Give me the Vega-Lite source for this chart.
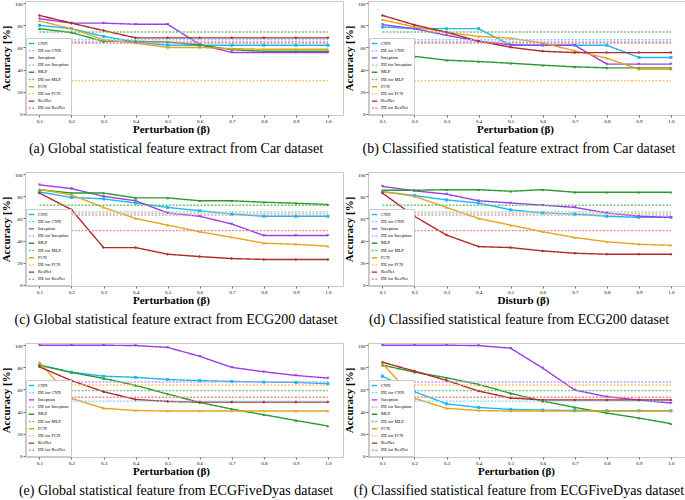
{
"$schema":"https://vega.github.io/schema/vega-lite/v6.json",
"padding":{"left":0,"top":0,"right":0,"bottom":0},
"background":"white",
"data":{"values":[
{"p":"a","s":"CNN","x":0.1,"y":80},{"p":"a","s":"CNN","x":0.2,"y":77},{"p":"a","s":"CNN","x":0.3,"y":70},{"p":"a","s":"CNN","x":0.4,"y":65},{"p":"a","s":"CNN","x":0.5,"y":62},{"p":"a","s":"CNN","x":0.6,"y":62},{"p":"a","s":"CNN","x":0.7,"y":62},{"p":"a","s":"CNN","x":0.8,"y":62},{"p":"a","s":"CNN","x":0.9,"y":62},{"p":"a","s":"CNN","x":1.0,"y":62},
{"p":"a","s":"Inception","x":0.1,"y":86},{"p":"a","s":"Inception","x":0.2,"y":82},{"p":"a","s":"Inception","x":0.3,"y":82},{"p":"a","s":"Inception","x":0.4,"y":81},{"p":"a","s":"Inception","x":0.5,"y":81},{"p":"a","s":"Inception","x":0.6,"y":62.7},{"p":"a","s":"Inception","x":0.7,"y":55.5},{"p":"a","s":"Inception","x":0.8,"y":55.5},{"p":"a","s":"Inception","x":0.9,"y":55.5},{"p":"a","s":"Inception","x":1.0,"y":55.5},
{"p":"a","s":"MLP","x":0.1,"y":77},{"p":"a","s":"MLP","x":0.2,"y":73.5},{"p":"a","s":"MLP","x":0.3,"y":65.5},{"p":"a","s":"MLP","x":0.4,"y":65.5},{"p":"a","s":"MLP","x":0.5,"y":65},{"p":"a","s":"MLP","x":0.6,"y":62.3},{"p":"a","s":"MLP","x":0.7,"y":58},{"p":"a","s":"MLP","x":0.8,"y":56.6},{"p":"a","s":"MLP","x":0.9,"y":56.6},{"p":"a","s":"MLP","x":1.0,"y":56.6},
{"p":"a","s":"FCN","x":0.1,"y":84},{"p":"a","s":"FCN","x":0.2,"y":77},{"p":"a","s":"FCN","x":0.3,"y":67},{"p":"a","s":"FCN","x":0.4,"y":64},{"p":"a","s":"FCN","x":0.5,"y":60},{"p":"a","s":"FCN","x":0.6,"y":60},{"p":"a","s":"FCN","x":0.7,"y":59},{"p":"a","s":"FCN","x":0.8,"y":58.4},{"p":"a","s":"FCN","x":0.9,"y":58.4},{"p":"a","s":"FCN","x":1.0,"y":58.4},
{"p":"a","s":"ResNet","x":0.1,"y":89},{"p":"a","s":"ResNet","x":0.2,"y":82},{"p":"a","s":"ResNet","x":0.3,"y":75.3},{"p":"a","s":"ResNet","x":0.4,"y":68.7},{"p":"a","s":"ResNet","x":0.5,"y":68.7},{"p":"a","s":"ResNet","x":0.6,"y":68.7},{"p":"a","s":"ResNet","x":0.7,"y":68.7},{"p":"a","s":"ResNet","x":0.8,"y":68.7},{"p":"a","s":"ResNet","x":0.9,"y":68.7},{"p":"a","s":"ResNet","x":1.0,"y":68.7},
{"p":"a","s":"DE for CNN","x":0.1,"y":67},{"p":"a","s":"DE for CNN","x":1.0,"y":67},
{"p":"a","s":"DE for Inception","x":0.1,"y":65},{"p":"a","s":"DE for Inception","x":1.0,"y":65},
{"p":"a","s":"DE for MLP","x":0.1,"y":74},{"p":"a","s":"DE for MLP","x":1.0,"y":74},
{"p":"a","s":"DE for FCN","x":0.1,"y":30},{"p":"a","s":"DE for FCN","x":1.0,"y":30},
{"p":"a","s":"DE for ResNet","x":0.1,"y":64},{"p":"a","s":"DE for ResNet","x":1.0,"y":64},

{"p":"b","s":"CNN","x":0.1,"y":78.6},{"p":"b","s":"CNN","x":0.2,"y":77},{"p":"b","s":"CNN","x":0.3,"y":77},{"p":"b","s":"CNN","x":0.4,"y":77},{"p":"b","s":"CNN","x":0.5,"y":62},{"p":"b","s":"CNN","x":0.6,"y":62},{"p":"b","s":"CNN","x":0.7,"y":62},{"p":"b","s":"CNN","x":0.8,"y":62},{"p":"b","s":"CNN","x":0.9,"y":51},{"p":"b","s":"CNN","x":1.0,"y":51},
{"p":"b","s":"Inception","x":0.1,"y":80.7},{"p":"b","s":"Inception","x":0.2,"y":77},{"p":"b","s":"Inception","x":0.3,"y":71},{"p":"b","s":"Inception","x":0.4,"y":65.7},{"p":"b","s":"Inception","x":0.5,"y":62.3},{"p":"b","s":"Inception","x":0.6,"y":62},{"p":"b","s":"Inception","x":0.7,"y":62},{"p":"b","s":"Inception","x":0.8,"y":45},{"p":"b","s":"Inception","x":0.9,"y":45},{"p":"b","s":"Inception","x":1.0,"y":45},
{"p":"b","s":"MLP","x":0.1,"y":61},{"p":"b","s":"MLP","x":0.2,"y":52},{"p":"b","s":"MLP","x":0.3,"y":48.5},{"p":"b","s":"MLP","x":0.4,"y":47.3},{"p":"b","s":"MLP","x":0.5,"y":45.8},{"p":"b","s":"MLP","x":0.6,"y":44},{"p":"b","s":"MLP","x":0.7,"y":42.5},{"p":"b","s":"MLP","x":0.8,"y":41.6},{"p":"b","s":"MLP","x":0.9,"y":41.6},{"p":"b","s":"MLP","x":1.0,"y":41.6},
{"p":"b","s":"FCN","x":0.1,"y":85},{"p":"b","s":"FCN","x":0.2,"y":78.6},{"p":"b","s":"FCN","x":0.3,"y":73.8},{"p":"b","s":"FCN","x":0.4,"y":70},{"p":"b","s":"FCN","x":0.5,"y":68.4},{"p":"b","s":"FCN","x":0.6,"y":64},{"p":"b","s":"FCN","x":0.7,"y":57},{"p":"b","s":"FCN","x":0.8,"y":50.3},{"p":"b","s":"FCN","x":0.9,"y":40.4},{"p":"b","s":"FCN","x":1.0,"y":40.4},
{"p":"b","s":"ResNet","x":0.1,"y":89},{"p":"b","s":"ResNet","x":0.2,"y":80.4},{"p":"b","s":"ResNet","x":0.3,"y":73.8},{"p":"b","s":"ResNet","x":0.4,"y":65.7},{"p":"b","s":"ResNet","x":0.5,"y":60.2},{"p":"b","s":"ResNet","x":0.6,"y":56.6},{"p":"b","s":"ResNet","x":0.7,"y":55.4},{"p":"b","s":"ResNet","x":0.8,"y":55.4},{"p":"b","s":"ResNet","x":0.9,"y":55.4},{"p":"b","s":"ResNet","x":1.0,"y":55.4},
{"p":"b","s":"DE for CNN","x":0.1,"y":67},{"p":"b","s":"DE for CNN","x":1.0,"y":67},
{"p":"b","s":"DE for Inception","x":0.1,"y":65},{"p":"b","s":"DE for Inception","x":1.0,"y":65},
{"p":"b","s":"DE for MLP","x":0.1,"y":74},{"p":"b","s":"DE for MLP","x":1.0,"y":74},
{"p":"b","s":"DE for FCN","x":0.1,"y":30},{"p":"b","s":"DE for FCN","x":1.0,"y":30},
{"p":"b","s":"DE for ResNet","x":0.1,"y":64},{"p":"b","s":"DE for ResNet","x":1.0,"y":64},

{"p":"c","s":"CNN","x":0.1,"y":84},{"p":"c","s":"CNN","x":0.2,"y":79},{"p":"c","s":"CNN","x":0.3,"y":77.7},{"p":"c","s":"CNN","x":0.4,"y":74},{"p":"c","s":"CNN","x":0.5,"y":70},{"p":"c","s":"CNN","x":0.6,"y":67},{"p":"c","s":"CNN","x":0.7,"y":64},{"p":"c","s":"CNN","x":0.8,"y":62},{"p":"c","s":"CNN","x":0.9,"y":62},{"p":"c","s":"CNN","x":1.0,"y":62},
{"p":"c","s":"Inception","x":0.1,"y":90.4},{"p":"c","s":"Inception","x":0.2,"y":87},{"p":"c","s":"Inception","x":0.3,"y":80},{"p":"c","s":"Inception","x":0.4,"y":76},{"p":"c","s":"Inception","x":0.5,"y":65},{"p":"c","s":"Inception","x":0.6,"y":62},{"p":"c","s":"Inception","x":0.7,"y":55},{"p":"c","s":"Inception","x":0.8,"y":44.6},{"p":"c","s":"Inception","x":0.9,"y":44.6},{"p":"c","s":"Inception","x":1.0,"y":44.6},
{"p":"c","s":"MLP","x":0.1,"y":86},{"p":"c","s":"MLP","x":0.2,"y":83},{"p":"c","s":"MLP","x":0.3,"y":83},{"p":"c","s":"MLP","x":0.4,"y":78.6},{"p":"c","s":"MLP","x":0.5,"y":78.6},{"p":"c","s":"MLP","x":0.6,"y":76},{"p":"c","s":"MLP","x":0.7,"y":76},{"p":"c","s":"MLP","x":0.8,"y":74.7},{"p":"c","s":"MLP","x":0.9,"y":73.8},{"p":"c","s":"MLP","x":1.0,"y":72.6},
{"p":"c","s":"FCN","x":0.1,"y":86.4},{"p":"c","s":"FCN","x":0.2,"y":81.3},{"p":"c","s":"FCN","x":0.3,"y":70},{"p":"c","s":"FCN","x":0.4,"y":60},{"p":"c","s":"FCN","x":0.5,"y":54},{"p":"c","s":"FCN","x":0.6,"y":48},{"p":"c","s":"FCN","x":0.7,"y":43},{"p":"c","s":"FCN","x":0.8,"y":37.7},{"p":"c","s":"FCN","x":0.9,"y":36.7},{"p":"c","s":"FCN","x":1.0,"y":35},
{"p":"c","s":"ResNet","x":0.1,"y":83},{"p":"c","s":"ResNet","x":0.2,"y":68},{"p":"c","s":"ResNet","x":0.3,"y":33.7},{"p":"c","s":"ResNet","x":0.4,"y":33.7},{"p":"c","s":"ResNet","x":0.5,"y":27.7},{"p":"c","s":"ResNet","x":0.6,"y":25.6},{"p":"c","s":"ResNet","x":0.7,"y":23.8},{"p":"c","s":"ResNet","x":0.8,"y":23},{"p":"c","s":"ResNet","x":0.9,"y":23},{"p":"c","s":"ResNet","x":1.0,"y":23},
{"p":"c","s":"DE for CNN","x":0.1,"y":66},{"p":"c","s":"DE for CNN","x":1.0,"y":66},
{"p":"c","s":"DE for Inception","x":0.1,"y":63},{"p":"c","s":"DE for Inception","x":1.0,"y":63},
{"p":"c","s":"DE for MLP","x":0.1,"y":72},{"p":"c","s":"DE for MLP","x":1.0,"y":72},
{"p":"c","s":"DE for FCN","x":0.1,"y":64.5},{"p":"c","s":"DE for FCN","x":1.0,"y":64.5},
{"p":"c","s":"DE for ResNet","x":0.1,"y":49},{"p":"c","s":"DE for ResNet","x":1.0,"y":49},

{"p":"d","s":"CNN","x":0.1,"y":84.3},{"p":"d","s":"CNN","x":0.2,"y":80.7},{"p":"d","s":"CNN","x":0.3,"y":76.8},{"p":"d","s":"CNN","x":0.4,"y":74},{"p":"d","s":"CNN","x":0.5,"y":67.8},{"p":"d","s":"CNN","x":0.6,"y":65},{"p":"d","s":"CNN","x":0.7,"y":64},{"p":"d","s":"CNN","x":0.8,"y":62},{"p":"d","s":"CNN","x":0.9,"y":61},{"p":"d","s":"CNN","x":1.0,"y":61},
{"p":"d","s":"Inception","x":0.1,"y":89},{"p":"d","s":"Inception","x":0.2,"y":85},{"p":"d","s":"Inception","x":0.3,"y":82},{"p":"d","s":"Inception","x":0.4,"y":76},{"p":"d","s":"Inception","x":0.5,"y":74},{"p":"d","s":"Inception","x":0.6,"y":72},{"p":"d","s":"Inception","x":0.7,"y":70},{"p":"d","s":"Inception","x":0.8,"y":65},{"p":"d","s":"Inception","x":0.9,"y":62},{"p":"d","s":"Inception","x":1.0,"y":61},
{"p":"d","s":"MLP","x":0.1,"y":85.5},{"p":"d","s":"MLP","x":0.2,"y":85.5},{"p":"d","s":"MLP","x":0.3,"y":86},{"p":"d","s":"MLP","x":0.4,"y":86},{"p":"d","s":"MLP","x":0.5,"y":84.6},{"p":"d","s":"MLP","x":0.6,"y":86},{"p":"d","s":"MLP","x":0.7,"y":83.7},{"p":"d","s":"MLP","x":0.8,"y":83.7},{"p":"d","s":"MLP","x":0.9,"y":83.7},{"p":"d","s":"MLP","x":1.0,"y":83.7},
{"p":"d","s":"FCN","x":0.1,"y":84.3},{"p":"d","s":"FCN","x":0.2,"y":80},{"p":"d","s":"FCN","x":0.3,"y":70},{"p":"d","s":"FCN","x":0.4,"y":60},{"p":"d","s":"FCN","x":0.5,"y":54},{"p":"d","s":"FCN","x":0.6,"y":48},{"p":"d","s":"FCN","x":0.7,"y":42.8},{"p":"d","s":"FCN","x":0.8,"y":39},{"p":"d","s":"FCN","x":0.9,"y":36.7},{"p":"d","s":"FCN","x":1.0,"y":35.8},
{"p":"d","s":"ResNet","x":0.1,"y":83},{"p":"d","s":"ResNet","x":0.2,"y":62},{"p":"d","s":"ResNet","x":0.3,"y":45},{"p":"d","s":"ResNet","x":0.4,"y":34.6},{"p":"d","s":"ResNet","x":0.5,"y":33.7},{"p":"d","s":"ResNet","x":0.6,"y":30.7},{"p":"d","s":"ResNet","x":0.7,"y":28.6},{"p":"d","s":"ResNet","x":0.8,"y":27.7},{"p":"d","s":"ResNet","x":0.9,"y":27.7},{"p":"d","s":"ResNet","x":1.0,"y":27.7},
{"p":"d","s":"DE for CNN","x":0.1,"y":66},{"p":"d","s":"DE for CNN","x":1.0,"y":66},
{"p":"d","s":"DE for Inception","x":0.1,"y":63},{"p":"d","s":"DE for Inception","x":1.0,"y":63},
{"p":"d","s":"DE for MLP","x":0.1,"y":72},{"p":"d","s":"DE for MLP","x":1.0,"y":72},
{"p":"d","s":"DE for FCN","x":0.1,"y":64.5},{"p":"d","s":"DE for FCN","x":1.0,"y":64.5},
{"p":"d","s":"DE for ResNet","x":0.1,"y":49},{"p":"d","s":"DE for ResNet","x":1.0,"y":49},

{"p":"e","s":"CNN","x":0.1,"y":82},{"p":"e","s":"CNN","x":0.2,"y":75.7},{"p":"e","s":"CNN","x":0.3,"y":72},{"p":"e","s":"CNN","x":0.4,"y":71},{"p":"e","s":"CNN","x":0.5,"y":69},{"p":"e","s":"CNN","x":0.6,"y":68},{"p":"e","s":"CNN","x":0.7,"y":67.3},{"p":"e","s":"CNN","x":0.8,"y":66.7},{"p":"e","s":"CNN","x":0.9,"y":66.4},{"p":"e","s":"CNN","x":1.0,"y":65.2},
{"p":"e","s":"Inception","x":0.1,"y":100},{"p":"e","s":"Inception","x":0.2,"y":100},{"p":"e","s":"Inception","x":0.3,"y":100},{"p":"e","s":"Inception","x":0.4,"y":99.7},{"p":"e","s":"Inception","x":0.5,"y":98},{"p":"e","s":"Inception","x":0.6,"y":90},{"p":"e","s":"Inception","x":0.7,"y":80},{"p":"e","s":"Inception","x":0.8,"y":76},{"p":"e","s":"Inception","x":0.9,"y":72.7},{"p":"e","s":"Inception","x":1.0,"y":70.3},
{"p":"e","s":"MLP","x":0.1,"y":82},{"p":"e","s":"MLP","x":0.2,"y":75.4},{"p":"e","s":"MLP","x":0.3,"y":70},{"p":"e","s":"MLP","x":0.4,"y":63.7},{"p":"e","s":"MLP","x":0.5,"y":55.9},{"p":"e","s":"MLP","x":0.6,"y":48.3},{"p":"e","s":"MLP","x":0.7,"y":42.3},{"p":"e","s":"MLP","x":0.8,"y":37.2},{"p":"e","s":"MLP","x":0.9,"y":32},{"p":"e","s":"MLP","x":1.0,"y":27},
{"p":"e","s":"FCN","x":0.1,"y":84.7},{"p":"e","s":"FCN","x":0.2,"y":52},{"p":"e","s":"FCN","x":0.3,"y":43},{"p":"e","s":"FCN","x":0.4,"y":41},{"p":"e","s":"FCN","x":0.5,"y":40.5},{"p":"e","s":"FCN","x":0.6,"y":40.5},{"p":"e","s":"FCN","x":0.7,"y":40.5},{"p":"e","s":"FCN","x":0.8,"y":40.5},{"p":"e","s":"FCN","x":0.9,"y":40.5},{"p":"e","s":"FCN","x":1.0,"y":40.5},
{"p":"e","s":"ResNet","x":0.1,"y":80.5},{"p":"e","s":"ResNet","x":0.2,"y":68},{"p":"e","s":"ResNet","x":0.3,"y":58},{"p":"e","s":"ResNet","x":0.4,"y":51},{"p":"e","s":"ResNet","x":0.5,"y":49.2},{"p":"e","s":"ResNet","x":0.6,"y":48.6},{"p":"e","s":"ResNet","x":0.7,"y":48.6},{"p":"e","s":"ResNet","x":0.8,"y":48.6},{"p":"e","s":"ResNet","x":0.9,"y":48.6},{"p":"e","s":"ResNet","x":1.0,"y":48.6},
{"p":"e","s":"DE for CNN","x":0.1,"y":49.5},{"p":"e","s":"DE for CNN","x":1.0,"y":49.5},
{"p":"e","s":"DE for Inception","x":0.1,"y":66.7},{"p":"e","s":"DE for Inception","x":1.0,"y":66.7},
{"p":"e","s":"DE for MLP","x":0.1,"y":59},{"p":"e","s":"DE for MLP","x":1.0,"y":59},
{"p":"e","s":"DE for FCN","x":0.1,"y":64},{"p":"e","s":"DE for FCN","x":1.0,"y":64},
{"p":"e","s":"DE for ResNet","x":0.1,"y":53},{"p":"e","s":"DE for ResNet","x":1.0,"y":53},

{"p":"f","s":"CNN","x":0.1,"y":72},{"p":"f","s":"CNN","x":0.2,"y":58},{"p":"f","s":"CNN","x":0.3,"y":47},{"p":"f","s":"CNN","x":0.4,"y":43.8},{"p":"f","s":"CNN","x":0.5,"y":42},{"p":"f","s":"CNN","x":0.6,"y":41.4},{"p":"f","s":"CNN","x":0.7,"y":41},{"p":"f","s":"CNN","x":0.8,"y":40.8},{"p":"f","s":"CNN","x":0.9,"y":40.8},{"p":"f","s":"CNN","x":1.0,"y":40.8},
{"p":"f","s":"Inception","x":0.1,"y":100},{"p":"f","s":"Inception","x":0.2,"y":100},{"p":"f","s":"Inception","x":0.3,"y":100},{"p":"f","s":"Inception","x":0.4,"y":99.7},{"p":"f","s":"Inception","x":0.5,"y":97.3},{"p":"f","s":"Inception","x":0.6,"y":79.3},{"p":"f","s":"Inception","x":0.7,"y":59.5},{"p":"f","s":"Inception","x":0.8,"y":53.5},{"p":"f","s":"Inception","x":0.9,"y":50.5},{"p":"f","s":"Inception","x":1.0,"y":47.7},
{"p":"f","s":"MLP","x":0.1,"y":82},{"p":"f","s":"MLP","x":0.2,"y":75.7},{"p":"f","s":"MLP","x":0.3,"y":70.6},{"p":"f","s":"MLP","x":0.4,"y":64.6},{"p":"f","s":"MLP","x":0.5,"y":56.5},{"p":"f","s":"MLP","x":0.6,"y":49.5},{"p":"f","s":"MLP","x":0.7,"y":43.8},{"p":"f","s":"MLP","x":0.8,"y":38.7},{"p":"f","s":"MLP","x":0.9,"y":34.2},{"p":"f","s":"MLP","x":1.0,"y":29.1},
{"p":"f","s":"FCN","x":0.1,"y":83.5},{"p":"f","s":"FCN","x":0.2,"y":52},{"p":"f","s":"FCN","x":0.3,"y":43},{"p":"f","s":"FCN","x":0.4,"y":41},{"p":"f","s":"FCN","x":0.5,"y":40.5},{"p":"f","s":"FCN","x":0.6,"y":40.5},{"p":"f","s":"FCN","x":0.7,"y":40.5},{"p":"f","s":"FCN","x":0.8,"y":40.5},{"p":"f","s":"FCN","x":0.9,"y":40.5},{"p":"f","s":"FCN","x":1.0,"y":40.5},
{"p":"f","s":"ResNet","x":0.1,"y":84.7},{"p":"f","s":"ResNet","x":0.2,"y":76.6},{"p":"f","s":"ResNet","x":0.3,"y":68.2},{"p":"f","s":"ResNet","x":0.4,"y":58.6},{"p":"f","s":"ResNet","x":0.5,"y":52.3},{"p":"f","s":"ResNet","x":0.6,"y":50.5},{"p":"f","s":"ResNet","x":0.7,"y":50.5},{"p":"f","s":"ResNet","x":0.8,"y":50.5},{"p":"f","s":"ResNet","x":0.9,"y":50.5},{"p":"f","s":"ResNet","x":1.0,"y":50.5},
{"p":"f","s":"DE for CNN","x":0.1,"y":49.5},{"p":"f","s":"DE for CNN","x":1.0,"y":49.5},
{"p":"f","s":"DE for Inception","x":0.1,"y":66.7},{"p":"f","s":"DE for Inception","x":1.0,"y":66.7},
{"p":"f","s":"DE for MLP","x":0.1,"y":59},{"p":"f","s":"DE for MLP","x":1.0,"y":59},
{"p":"f","s":"DE for FCN","x":0.1,"y":64},{"p":"f","s":"DE for FCN","x":1.0,"y":64},
{"p":"f","s":"DE for ResNet","x":0.1,"y":53},{"p":"f","s":"DE for ResNet","x":1.0,"y":53}
]},
"columns":2,
"bounds":"flush",
"spacing":{"row":57,"column":25},
"resolve":{"scale":{"color":"independent","strokeDash":"independent","shape":"independent"}},
"concat":[
{"width":318,"height":114,"transform":[{"filter":"datum.p=='a'"}],
 "title":{"text":"(a) Global statistical feature extract from Car dataset"},
 "encoding":{
  "x":{"field":"x","type":"quantitative","scale":{"domain":[0.055,1.047],"nice":false,"zero":false},"axis":{"values":[0.1,0.2,0.3,0.4,0.5,0.6,0.7,0.8,0.9,1.0],"format":".1f","title":"Perturbation (β)","titleX":146}},
  "y":{"field":"y","type":"quantitative","scale":{"domain":[-1,102],"nice":false},"axis":{"values":[0,20,40,60,80,100],"title":"Accuracy [%]"}},
  "color":{"field":"s","type":"nominal","scale":{"domain":["CNN","DE for CNN","Inception","DE for Inception","MLP","DE for MLP","FCN","DE for FCN","ResNet","DE for ResNet"],"range":["#1cb8f0","#7fd6f5","#9b3de8","#c99cf0","#2b9a2b","#74c074","#e6a41c","#f2c870","#b3282d","#e58a8a"]},"legend":{"title":null}}},
 "layer":[
  {"mark":{"type":"line","strokeWidth":1.4},"encoding":{"strokeDash":{"field":"s","type":"nominal","scale":{"domain":["CNN","DE for CNN","Inception","DE for Inception","MLP","DE for MLP","FCN","DE for FCN","ResNet","DE for ResNet"],"range":[[1,0],[2,1.5],[1,0],[2,1.5],[1,0],[2,1.5],[1,0],[2,1.5],[1,0],[2,1.5]]},"legend":{"title":null}}}},
  {"transform":[{"filter":"indexof(datum.s,'DE')<0"}],"mark":{"type":"point","filled":true,"size":9,"opacity":1},"encoding":{"shape":{"field":"s","type":"nominal","scale":{"domain":["CNN","Inception","MLP","FCN","ResNet"],"range":["square","triangle-down","triangle-up","triangle-up","diamond"]},"legend":null}}}
 ]},
{"width":318,"height":114,"transform":[{"filter":"datum.p=='b'"}],
 "title":{"text":"(b) Classified statistical feature extract from Car dataset"},
 "encoding":{
  "x":{"field":"x","type":"quantitative","scale":{"domain":[0.055,1.047],"nice":false,"zero":false},"axis":{"values":[0.1,0.2,0.3,0.4,0.5,0.6,0.7,0.8,0.9,1.0],"format":".1f","title":"Perturbation (β)","titleX":147}},
  "y":{"field":"y","type":"quantitative","scale":{"domain":[-1,102],"nice":false},"axis":{"values":[0,20,40,60,80,100],"title":"Accuracy [%]"}},
  "color":{"field":"s","type":"nominal","scale":{"domain":["CNN","DE for CNN","Inception","DE for Inception","MLP","DE for MLP","FCN","DE for FCN","ResNet","DE for ResNet"],"range":["#1cb8f0","#7fd6f5","#9b3de8","#c99cf0","#2b9a2b","#74c074","#e6a41c","#f2c870","#b3282d","#e58a8a"]},"legend":{"title":null}}},
 "layer":[
  {"mark":{"type":"line","strokeWidth":1.4},"encoding":{"strokeDash":{"field":"s","type":"nominal","scale":{"domain":["CNN","DE for CNN","Inception","DE for Inception","MLP","DE for MLP","FCN","DE for FCN","ResNet","DE for ResNet"],"range":[[1,0],[2,1.5],[1,0],[2,1.5],[1,0],[2,1.5],[1,0],[2,1.5],[1,0],[2,1.5]]},"legend":{"title":null}}}},
  {"transform":[{"filter":"indexof(datum.s,'DE')<0"}],"mark":{"type":"point","filled":true,"size":9,"opacity":1},"encoding":{"shape":{"field":"s","type":"nominal","scale":{"domain":["CNN","Inception","MLP","FCN","ResNet"],"range":["square","triangle-down","triangle-up","triangle-up","diamond"]},"legend":null}}}
 ]},
{"width":318,"height":114,"transform":[{"filter":"datum.p=='c'"}],
 "title":{"text":"(c) Global statistical feature extract from ECG200 dataset"},
 "encoding":{
  "x":{"field":"x","type":"quantitative","scale":{"domain":[0.055,1.047],"nice":false,"zero":false},"axis":{"values":[0.1,0.2,0.3,0.4,0.5,0.6,0.7,0.8,0.9,1.0],"format":".1f","title":"Perturbation (β)","titleX":146}},
  "y":{"field":"y","type":"quantitative","scale":{"domain":[-1,102],"nice":false},"axis":{"values":[0,20,40,60,80,100],"title":"Accuracy [%]"}},
  "color":{"field":"s","type":"nominal","scale":{"domain":["CNN","DE for CNN","Inception","DE for Inception","MLP","DE for MLP","FCN","DE for FCN","ResNet","DE for ResNet"],"range":["#1cb8f0","#7fd6f5","#9b3de8","#c99cf0","#2b9a2b","#74c074","#e6a41c","#f2c870","#b3282d","#e58a8a"]},"legend":{"title":null}}},
 "layer":[
  {"mark":{"type":"line","strokeWidth":1.4},"encoding":{"strokeDash":{"field":"s","type":"nominal","scale":{"domain":["CNN","DE for CNN","Inception","DE for Inception","MLP","DE for MLP","FCN","DE for FCN","ResNet","DE for ResNet"],"range":[[1,0],[2,1.5],[1,0],[2,1.5],[1,0],[2,1.5],[1,0],[2,1.5],[1,0],[2,1.5]]},"legend":{"title":null}}}},
  {"transform":[{"filter":"indexof(datum.s,'DE')<0"}],"mark":{"type":"point","filled":true,"size":9,"opacity":1},"encoding":{"shape":{"field":"s","type":"nominal","scale":{"domain":["CNN","Inception","MLP","FCN","ResNet"],"range":["square","triangle-down","triangle-up","triangle-up","diamond"]},"legend":null}}}
 ]},
{"width":318,"height":114,"transform":[{"filter":"datum.p=='d'"}],
 "title":{"text":"(d) Classified statistical feature from ECG200 dataset"},
 "encoding":{
  "x":{"field":"x","type":"quantitative","scale":{"domain":[0.055,1.047],"nice":false,"zero":false},"axis":{"values":[0.1,0.2,0.3,0.4,0.5,0.6,0.7,0.8,0.9,1.0],"format":".1f","title":"Disturb (β)","titleX":155}},
  "y":{"field":"y","type":"quantitative","scale":{"domain":[-1,102],"nice":false},"axis":{"values":[0,20,40,60,80,100],"title":"Accuracy [%]"}},
  "color":{"field":"s","type":"nominal","scale":{"domain":["CNN","DE for CNN","Inception","DE for Inception","MLP","DE for MLP","FCN","DE for FCN","ResNet","DE for ResNet"],"range":["#1cb8f0","#7fd6f5","#9b3de8","#c99cf0","#2b9a2b","#74c074","#e6a41c","#f2c870","#b3282d","#e58a8a"]},"legend":{"title":null}}},
 "layer":[
  {"mark":{"type":"line","strokeWidth":1.4},"encoding":{"strokeDash":{"field":"s","type":"nominal","scale":{"domain":["CNN","DE for CNN","Inception","DE for Inception","MLP","DE for MLP","FCN","DE for FCN","ResNet","DE for ResNet"],"range":[[1,0],[2,1.5],[1,0],[2,1.5],[1,0],[2,1.5],[1,0],[2,1.5],[1,0],[2,1.5]]},"legend":{"title":null}}}},
  {"transform":[{"filter":"indexof(datum.s,'DE')<0"}],"mark":{"type":"point","filled":true,"size":9,"opacity":1},"encoding":{"shape":{"field":"s","type":"nominal","scale":{"domain":["CNN","Inception","MLP","FCN","ResNet"],"range":["square","triangle-down","triangle-up","triangle-up","diamond"]},"legend":null}}}
 ]},
{"width":318,"height":114,"transform":[{"filter":"datum.p=='e'"}],
 "title":{"text":"(e) Global statistical feature from ECGFiveDyas dataset"},
 "encoding":{
  "x":{"field":"x","type":"quantitative","scale":{"domain":[0.055,1.047],"nice":false,"zero":false},"axis":{"values":[0.1,0.2,0.3,0.4,0.5,0.6,0.7,0.8,0.9,1.0],"format":".1f","title":"Perturbation (β)","titleX":146}},
  "y":{"field":"y","type":"quantitative","scale":{"domain":[-1,102],"nice":false},"axis":{"values":[0,20,40,60,80,100],"title":"Accuracy [%]"}},
  "color":{"field":"s","type":"nominal","scale":{"domain":["CNN","DE for CNN","Inception","DE for Inception","MLP","DE for MLP","FCN","DE for FCN","ResNet","DE for ResNet"],"range":["#1cb8f0","#7fd6f5","#9b3de8","#c99cf0","#2b9a2b","#74c074","#e6a41c","#f2c870","#b3282d","#e58a8a"]},"legend":{"title":null}}},
 "layer":[
  {"mark":{"type":"line","strokeWidth":1.4},"encoding":{"strokeDash":{"field":"s","type":"nominal","scale":{"domain":["CNN","DE for CNN","Inception","DE for Inception","MLP","DE for MLP","FCN","DE for FCN","ResNet","DE for ResNet"],"range":[[1,0],[2,1.5],[1,0],[2,1.5],[1,0],[2,1.5],[1,0],[2,1.5],[1,0],[2,1.5]]},"legend":{"title":null}}}},
  {"transform":[{"filter":"indexof(datum.s,'DE')<0"}],"mark":{"type":"point","filled":true,"size":9,"opacity":1},"encoding":{"shape":{"field":"s","type":"nominal","scale":{"domain":["CNN","Inception","MLP","FCN","ResNet"],"range":["square","triangle-down","triangle-up","triangle-up","diamond"]},"legend":null}}}
 ]},
{"width":318,"height":114,"transform":[{"filter":"datum.p=='f'"}],
 "title":{"text":"(f) Classified statistical feature from ECGFiveDyas dataset"},
 "encoding":{
  "x":{"field":"x","type":"quantitative","scale":{"domain":[0.055,1.047],"nice":false,"zero":false},"axis":{"values":[0.1,0.2,0.3,0.4,0.5,0.6,0.7,0.8,0.9,1.0],"format":".1f","title":"Perturbation (β)","titleX":148}},
  "y":{"field":"y","type":"quantitative","scale":{"domain":[-1,102],"nice":false},"axis":{"values":[0,20,40,60,80,100],"title":"Accuracy [%]"}},
  "color":{"field":"s","type":"nominal","scale":{"domain":["CNN","DE for CNN","Inception","DE for Inception","MLP","DE for MLP","FCN","DE for FCN","ResNet","DE for ResNet"],"range":["#1cb8f0","#7fd6f5","#9b3de8","#c99cf0","#2b9a2b","#74c074","#e6a41c","#f2c870","#b3282d","#e58a8a"]},"legend":{"title":null}}},
 "layer":[
  {"mark":{"type":"line","strokeWidth":1.4},"encoding":{"strokeDash":{"field":"s","type":"nominal","scale":{"domain":["CNN","DE for CNN","Inception","DE for Inception","MLP","DE for MLP","FCN","DE for FCN","ResNet","DE for ResNet"],"range":[[1,0],[2,1.5],[1,0],[2,1.5],[1,0],[2,1.5],[1,0],[2,1.5],[1,0],[2,1.5]]},"legend":{"title":null}}}},
  {"transform":[{"filter":"indexof(datum.s,'DE')<0"}],"mark":{"type":"point","filled":true,"size":9,"opacity":1},"encoding":{"shape":{"field":"s","type":"nominal","scale":{"domain":["CNN","Inception","MLP","FCN","ResNet"],"range":["square","triangle-down","triangle-up","triangle-up","diamond"]},"legend":null}}}
 ]}
],
"config":{
 "font":"Liberation Serif",
 "view":{"stroke":"#c8c8c8"},
 "axis":{"grid":false,"domain":false,"labelFontSize":5,"labelFont":"Liberation Serif","tickSize":2,"tickColor":"#666","labelPadding":1,"labelColor":"#000","titleFont":"Liberation Serif","titleFontSize":11,"titleFontWeight":"bold","titleColor":"#000"},
 "axisX":{"titlePadding":0},
 "axisY":{"titlePadding":3},
 "legend":{"orient":"bottom-left","labelFontSize":4.5,"labelFont":"Liberation Serif","labelColor":"#000","symbolType":"stroke","symbolSize":30,"symbolStrokeWidth":1.4,"rowPadding":0.2,"padding":2,"strokeColor":"#ccc","fillColor":"white","offset":1,"labelLimit":100,"labelOffset":3},
 "title":{"font":"Liberation Serif","fontSize":14,"fontWeight":"normal","orient":"bottom","offset":8,"dx":-8,"color":"#000"}
}
}
